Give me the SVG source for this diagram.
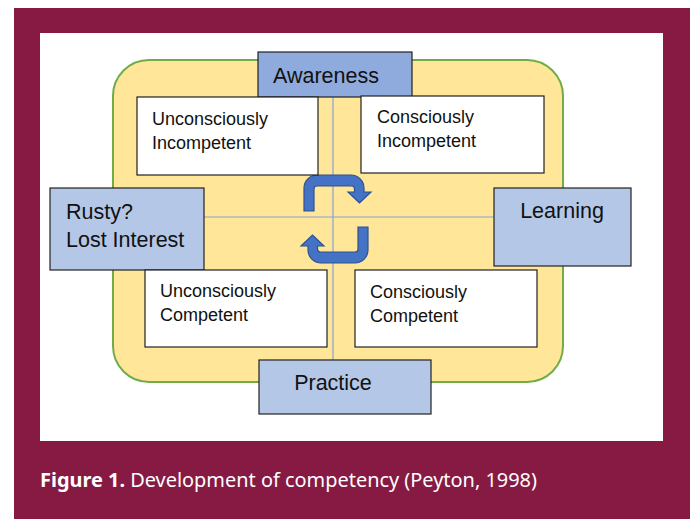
<svg xmlns="http://www.w3.org/2000/svg" width="690" height="519" viewBox="0 0 690 519">
  <style>
    .lbl { font-family: "Liberation Sans", "Noto Sans", sans-serif; fill: #111; }
    .big { font-size: 21.5px; }
    .sm { font-size: 18px; }
    .quad { fill: #ffffff; stroke: #222; stroke-width: 1.2; }
    .side { fill: #b4c7e7; stroke: #222; stroke-width: 1.2; }
    .axis { stroke: #85a2d3; stroke-width: 1.2; fill: none; }
    .turn { fill: #4472c4; stroke: #2f528f; stroke-width: 1.2; }
    .cap { font-family: "Noto Sans", "Open Sans", sans-serif; font-size: 19px; fill: #ffffff; }
  </style>

  <!-- frame and panel -->
  <rect x="0" y="0" width="690" height="519" fill="#ffffff"/>
  <rect x="14" y="8" width="676" height="511" fill="#861a43"/>
  <rect x="40" y="33" width="623" height="408" fill="#ffffff"/>

  <!-- background field -->
  <rect x="113" y="60" width="450" height="322" rx="36" ry="36" fill="#ffe699" stroke="#70ad47" stroke-width="2"/>

  <!-- axes and turning arrows -->
  <g id="connectors">
    <line class="axis" x1="333" y1="97" x2="333" y2="360"/>
    <line class="axis" x1="204" y1="217" x2="494" y2="217"/>
    <path id="turn-top" class="turn" d="M304,211 V188 A13,13 0 0 1 317,175 H351 A13,13 0 0 1 364,188 V192 H371 L359.5,203 L348,192 H354.5 V189 A3,3 0 0 0 351.5,186 H317 A3,3 0 0 0 314,189 V211 Z"/>
    <use href="#turn-top" transform="rotate(180 336 219)"/>
  </g>

  <g id="awareness">
    <rect x="258" y="52" width="154" height="45" fill="#8faadc" stroke="#222" stroke-width="1.2"/>
    <text class="lbl big" x="326" y="83" text-anchor="middle">Awareness</text>
  </g>

  <g id="unconsciously-incompetent">
    <rect class="quad" x="137" y="97" width="181" height="78"/>
    <text class="lbl sm" x="152" y="125">Unconsciously</text>
    <text class="lbl sm" x="152" y="149">Incompetent</text>
  </g>

  <g id="consciously-incompetent">
    <rect class="quad" x="361" y="96" width="183" height="77"/>
    <text class="lbl sm" x="377" y="123">Consciously</text>
    <text class="lbl sm" x="377" y="147">Incompetent</text>
  </g>

  <g id="rusty">
    <rect class="side" x="50" y="188" width="154" height="82"/>
    <text class="lbl big" x="66" y="219">Rusty?</text>
    <text class="lbl big" x="66" y="247">Lost Interest</text>
  </g>

  <g id="learning">
    <rect class="side" x="494" y="188" width="137" height="78"/>
    <text class="lbl big" x="562" y="218" text-anchor="middle">Learning</text>
  </g>

  <g id="unconsciously-competent">
    <rect class="quad" x="145" y="270" width="182" height="77"/>
    <text class="lbl sm" x="160" y="297">Unconsciously</text>
    <text class="lbl sm" x="160" y="321">Competent</text>
  </g>

  <g id="consciously-competent">
    <rect class="quad" x="355" y="270" width="182" height="77"/>
    <text class="lbl sm" x="370" y="298">Consciously</text>
    <text class="lbl sm" x="370" y="322">Competent</text>
  </g>

  <g id="practice">
    <rect class="side" x="259" y="360" width="172" height="54"/>
    <text class="lbl big" x="333" y="390" text-anchor="middle">Practice</text>
  </g>

  <!-- caption -->
  <text class="cap" x="40" y="487" textLength="497" lengthAdjust="spacingAndGlyphs"><tspan font-weight="bold">Figure 1.</tspan> Development of competency (Peyton, 1998)</text>
</svg>
